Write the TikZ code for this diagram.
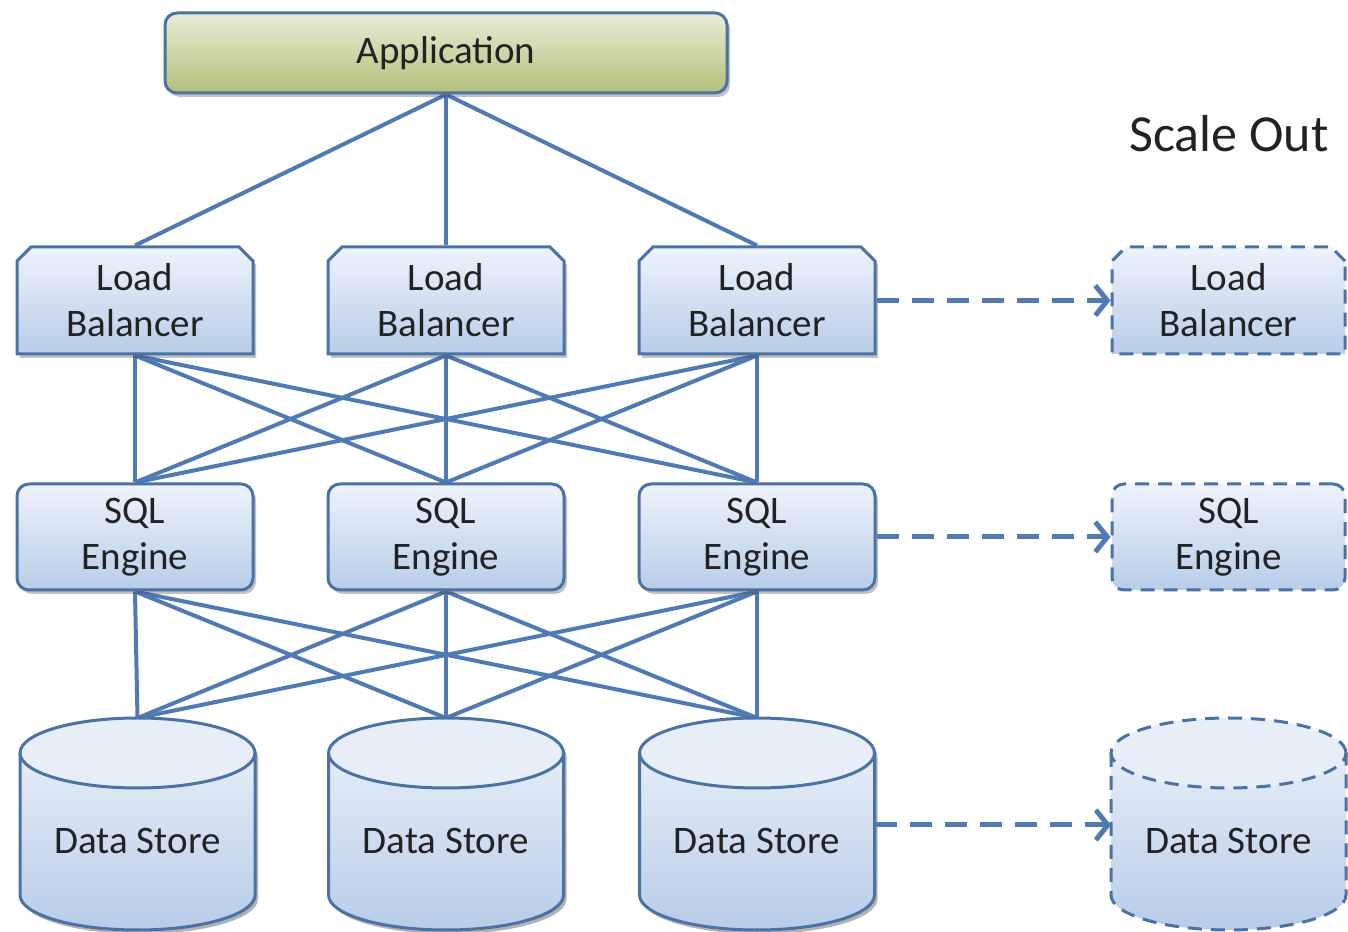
\documentclass[tikz,border=0pt]{standalone}
\usepackage{fontspec}
\setmainfont{Carlito}
\usetikzlibrary{shapes.misc,shadows,arrows.meta,backgrounds}

\definecolor{edge}{HTML}{4F7AB3}
\definecolor{frame}{HTML}{4A72A6}
\definecolor{boxtop}{HTML}{EEF3FB}
\definecolor{boxbot}{HTML}{B8CCE8}
\definecolor{captop}{HTML}{E8EEF8}
\definecolor{apptop}{HTML}{E9ECD6}
\definecolor{appbot}{HTML}{B3C07A}
\definecolor{ink}{HTML}{222222}

\tikzset{
  labelfont/.style={font=\fontsize{39}{46}\selectfont, text=ink, align=center},
  boxshadow/.style={drop shadow={shadow xshift=3pt, shadow yshift=-4pt, opacity=0.35, fill=black!70}},
  tier/.style={labelfont, draw=frame, line width=3pt, top color=boxtop, bottom color=boxbot, inner sep=0pt},
  balancer/.style={tier, chamfered rectangle, chamfered rectangle corners={north west,north east},
    chamfered rectangle xsep=7pt, chamfered rectangle ysep=7pt,
    minimum width=236pt, minimum height=107pt},
  engine/.style={tier, rectangle, rounded corners=12pt, minimum width=236pt, minimum height=106pt},
  spare/.style={dash pattern=on 14pt off 9pt},
  link/.style={draw=edge, line width=4pt},
  scaleout/.style={draw=edge, line width=5pt, dash pattern=on 22pt off 13pt,
    -{Straight Barb[length=12pt,width=30pt,line width=5pt]}},
}

% cylinder for a data store: #1 centre x, #2 extra line style
\newcommand{\storecyl}[2]{%
  \path[top color=boxtop, bottom color=boxbot]
    (#1-117.5,178) -- (#1-117.5,36)
    arc[start angle=180, end angle=360, x radius=117.5pt, y radius=35pt]
    -- (#1+117.5,178)
    arc[start angle=0, end angle=180, x radius=117.5pt, y radius=35pt] -- cycle;
  \fill[captop] (#1,178) ellipse[x radius=117.5pt, y radius=35pt];
  \draw[frame, line width=3pt, #2]
    (#1-117.5,178) -- (#1-117.5,36)
    arc[start angle=180, end angle=360, x radius=117.5pt, y radius=35pt]
    -- (#1+117.5,178);
  \draw[frame, line width=3pt, #2] (#1,178) ellipse[x radius=117.5pt, y radius=35pt];
}
\newcommand{\cylshadow}[1]{%
  \fill[black, opacity=0.3]
    (#1-114.5,174) -- (#1-114.5,32)
    arc[start angle=180, end angle=360, x radius=117.5pt, y radius=35pt]
    -- (#1+120.5,174)
    arc[start angle=0, end angle=180, x radius=117.5pt, y radius=35pt] -- cycle;
}

\begin{document}
\begin{tikzpicture}[x=1pt, y=1pt]
  \useasboundingbox (0,0) rectangle (1348,931);

  % application tier
  \node[labelfont, boxshadow, draw=frame, line width=3pt, rounded corners=12pt,
        top color=apptop, bottom color=appbot, minimum width=562pt, minimum height=80pt]
        (app) at (446,878) {Application};

  \node[labelfont, font=\fontsize{52}{60}\selectfont] (scale) at (1229,797) {Scale Out};

  % load balancers
  \node[balancer, boxshadow] (lb1) at (135,630.5) {Load\\Balancer};
  \node[balancer, boxshadow] (lb2) at (446,630.5) {Load\\Balancer};
  \node[balancer, boxshadow] (lb3) at (757,630.5) {Load\\Balancer};
  \node[balancer, spare, minimum width=233pt] (lb4) at (1228.5,630.5) {Load\\Balancer};

  % SQL engines
  \node[engine, boxshadow] (sql1) at (135,394) {SQL\\Engine};
  \node[engine, boxshadow] (sql2) at (446,394) {SQL\\Engine};
  \node[engine, boxshadow] (sql3) at (757,394) {SQL\\Engine};
  \node[engine, spare, minimum width=233pt] (sql4) at (1228.5,394) {SQL\\Engine};

  % data stores
  \cylshadow{137.5}\storecyl{137.5}{}
  \cylshadow{446}\storecyl{446}{}
  \cylshadow{757}\storecyl{757}{}
  \storecyl{1228.5}{spare}
  \node[labelfont] (ds1) at (137.5,90) {Data Store};
  \node[labelfont] (ds2) at (446,90) {Data Store};
  \node[labelfont] (ds3) at (757,90) {Data Store};
  \node[labelfont] (ds4) at (1228.5,90) {Data Store};
  \coordinate (ds1top) at (137.5,213);
  \coordinate (ds2top) at (446,213);
  \coordinate (ds3top) at (757,213);
  \coordinate (ds3side) at (874.5,106);
  \coordinate (ds4side) at (1111,106);

  % connectors
  \begin{pgfonlayer}{background}
    \foreach \i in {1,2,3} {
      \draw[link] (app.south) -- (lb\i.north);
      \foreach \j in {1,2,3} {
        \draw[link] (lb\i.south) -- (sql\j.north);
        \draw[link] (sql\i.south) -- (ds\j top);
      }
    }
  \end{pgfonlayer}

  % scale-out arrows
  \draw[scaleout] (lb3.east) -- (lb4.west);
  \draw[scaleout] (sql3.east) -- (sql4.west);
  \draw[scaleout] (ds3side) -- (ds4side);
\end{tikzpicture}
\end{document}
